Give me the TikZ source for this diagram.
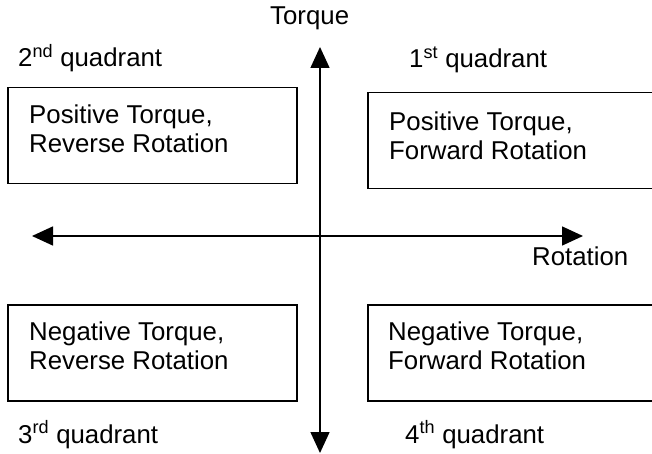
\documentclass[tikz,border=0pt]{standalone}
\usepackage{fontspec}
\setmainfont{Liberation Sans}
\usetikzlibrary{arrows.meta}
\begin{document}
\begin{tikzpicture}[x=1pt, y=-1pt,
    txt/.style={font=\fontsize{25.8}{29}\selectfont, inner sep=0pt},
    quadbox/.style={draw, line width=1.5pt, minimum width=289pt, minimum height=96pt,
      inner sep=0pt, anchor=north west},
    boxtext/.style={txt, align=left, anchor=north west}]
  \useasboundingbox (0, 0) rectangle (652, 454);
  % axes
  \coordinate (tq top) at (320, 47);
  \coordinate (tq bot) at (320, 453);
  \coordinate (rot left) at (32, 236);
  \coordinate (rot right) at (583, 236);
  \draw[line width=1.5pt, {Triangle[length=21pt, width=19pt]}-{Triangle[length=21pt, width=19pt]}] (tq bot) -- (tq top);
  \draw[line width=1.5pt, {Triangle[length=21pt, width=19pt]}-{Triangle[length=21pt, width=19pt]}] (rot left) -- (rot right);
  \node[txt, anchor=base west] (torque) at (270, 25) {Torque};
  \node[txt, anchor=base west] (rotation) at (532, 265) {Rotation};
  % quadrant boxes
  \node[quadbox] (q2) at (7, 87) {};
  \node[quadbox] (q1) at (367, 92) {};
  \node[quadbox] (q3) at (7, 304) {};
  \node[quadbox] (q4) at (367, 304) {};
  \node[boxtext] (q2 text) at ([shift={(22, 18)}]q2.north west) {Positive Torque,\\Reverse Rotation};
  \node[boxtext] (q1 text) at ([shift={(22, 20)}]q1.north west) {Positive Torque,\\Forward Rotation};
  \node[boxtext] (q3 text) at ([shift={(22, 18)}]q3.north west) {Negative Torque,\\Reverse Rotation};
  \node[boxtext] (q4 text) at ([shift={(21, 18)}]q4.north west) {Negative Torque,\\Forward Rotation};
  % quadrant names
  \node[txt, anchor=base west] (q2 name) at (18, 67) {2\textsuperscript{nd} quadrant};
  \node[txt, anchor=base west] (q1 name) at (409, 68) {1\textsuperscript{st} quadrant};
  \node[txt, anchor=base west] (q3 name) at (18, 443) {3\textsuperscript{rd} quadrant};
  \node[txt, anchor=base west] (q4 name) at (405, 443) {4\textsuperscript{th} quadrant};
\end{tikzpicture}
\end{document}
